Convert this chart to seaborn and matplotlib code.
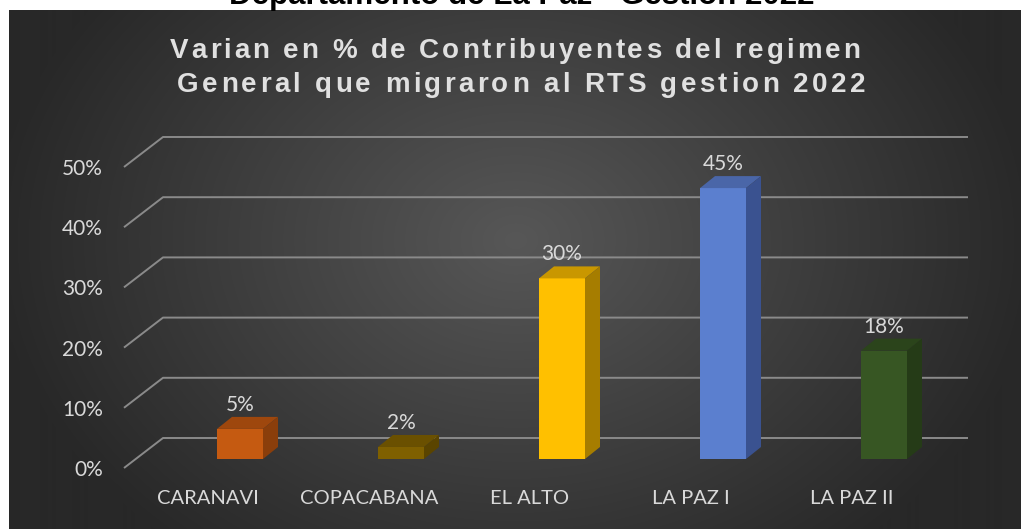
import numpy as np
import pandas as pd
import matplotlib
matplotlib.use("Agg")
import matplotlib.pyplot as plt
from matplotlib.patches import Polygon
from matplotlib import font_manager
import seaborn as sns

# === Data ===
categories = ["CARANAVI", "COPACABANA", "EL ALTO", "LA PAZ I", "LA PAZ II"]
values = [0.05, 0.02, 0.30, 0.45, 0.18]
value_labels = ["5%", "2%", "30%", "45%", "18%"]
y_ticks = [0.0, 0.1, 0.2, 0.3, 0.4, 0.5]
y_tick_labels = ["0%", "10%", "20%", "30%", "40%", "50%"]
title_lines = ["Varian en % de Contribuyentes del regimen",
               "General que migraron al RTS gestion 2022"]
top_title = "Departamento de La Paz - Gestion 2022"

# === Colours (front / top / side faces) ===
front_colors = ["#C55A11", "#7F6000", "#FFC000", "#5B7FCF", "#375623"]
top_colors = ["#9E470D", "#6A5000", "#C99700", "#4A66A8", "#2B441B"]
side_colors = ["#8A3E0B", "#5A4400", "#A67D00", "#3A5290", "#253B17"]
TEXT = "#D9D9D9"
GRID = "#8A8A8A"

# === Layout in pixels ===
W, H, DPI = 1021, 529, 100
PX0, PX1 = 159.5, 964.5         # x-range of the category axis
BASE_Y, PPY = 459, 602          # pixel row of 0 %, pixels per unit
PPX = (PX1 - PX0) / len(categories)
DX, DY = 15, 12                 # bar depth
FRONT_Y, BACK_Y = -9, 21        # gridline front / back offsets


def xdata(px):
    return (px - PX0) / PPX - 0.5


sns.set_theme(style="white")
plt.rcParams["font.family"] = ["Lato", "DejaVu Sans"]

fig = plt.figure(figsize=(W / DPI, H / DPI), dpi=DPI, facecolor="white")

# === Dark radial-gradient panel ===
bg = fig.add_axes([9 / W, 0, (W - 9) / W, (H - 10) / H])
yy, xx = np.mgrid[10:H, 9:W]
r = np.sqrt(((xx - 515) / 520) ** 2 + ((yy - 240) / 400) ** 2)
shade = (0x57 - (0x57 - 0x28) * np.clip(r, 0, 1)) / 255
bg.imshow(np.dstack([shade] * 3), aspect="auto", extent=[0, 1, 0, 1])
bg.axis("off")

# === Bars ===
ax = fig.add_axes([PX0 / W, (H - BASE_Y) / H, (PX1 - PX0) / W, 0.5 * PPY / H])
ax.patch.set_alpha(0)
df = pd.DataFrame({"district": categories, "share": values})
sns.barplot(data=df, x="district", y="share", hue="district",
            palette=front_colors, width=46 / PPX, saturation=1,
            legend=False, ax=ax, zorder=3, linewidth=0, edgecolor="none")
ax.set_xlim(-0.5, len(categories) - 0.5)
ax.set_ylim(0, 0.5)
ax.axis("off")

dx, dy = DX / PPX, DY / PPY
for bar, tc, sc, lab in zip(ax.patches, top_colors, side_colors, value_labels):
    x0, w, h = bar.get_x(), bar.get_width(), bar.get_height()
    x1 = x0 + w
    ax.add_patch(Polygon([(x0, h), (x1, h), (x1 + dx, h + dy), (x0 + dx, h + dy)],
                         closed=True, color=tc, zorder=3, clip_on=False, lw=0))
    ax.add_patch(Polygon([(x1, 0), (x1, h), (x1 + dx, h + dy), (x1 + dx, dy)],
                         closed=True, color=sc, zorder=3, clip_on=False, lw=0))
    ax.text(x0 + w / 2, h + 24 / PPY, lab, ha="center", va="center",
            fontsize=15, color=TEXT, zorder=4, clip_on=False)

# === Perspective gridlines + y labels ===
xf, xb, xr = xdata(124), xdata(163), xdata(968)
for v, lab in zip(y_ticks, y_tick_labels):
    ax.plot([xf, xb, xr], [v + FRONT_Y / PPY, v + BACK_Y / PPY, v + BACK_Y / PPY],
            color=GRID, lw=1.4, zorder=1, clip_on=False, solid_capstyle="butt")
    ax.text(xdata(103), v + (FRONT_Y - 2) / PPY, lab, ha="right", va="center",
            fontsize=15, color=TEXT, clip_on=False)

# === Category labels ===
for i, cat in enumerate(categories):
    ax.text(i - 32 / PPX, -39 / PPY, cat, ha="center", va="center",
            fontsize=14.5, color=TEXT, clip_on=False)


# === Letter-spaced title ===
def spaced_text(x_px, y_px, text, size, width_px, color):
    prop = font_manager.FontProperties(family="Liberation Sans", weight="bold", size=size)
    font = font_manager.get_font(font_manager.findfont(prop))
    font.set_size(size, DPI)
    advs = [font.load_char(ord(ch)).linearHoriAdvance / 65536 for ch in text]
    spacing = (width_px - sum(advs)) / (len(text) - 1)
    x = x_px - width_px / 2
    for ch, a in zip(text, advs):
        fig.text(x / W, 1 - y_px / H, ch, fontproperties=prop, ha="left",
                 va="baseline", color=color)
        x += a + spacing


spaced_text(515, 58, title_lines[0], 20, 690, "#E0E0E0")
spaced_text(521, 92, title_lines[1], 20, 688, "#E0E0E0")

# heading of the page above the chart, cut off at the top edge
fig.text(522 / W, 1 - 4 / H, top_title, ha="center", va="baseline",
         fontsize=22.5, fontweight="bold", family="Liberation Sans", color="black")

fig.savefig("out.png", dpi=DPI, facecolor="white")
